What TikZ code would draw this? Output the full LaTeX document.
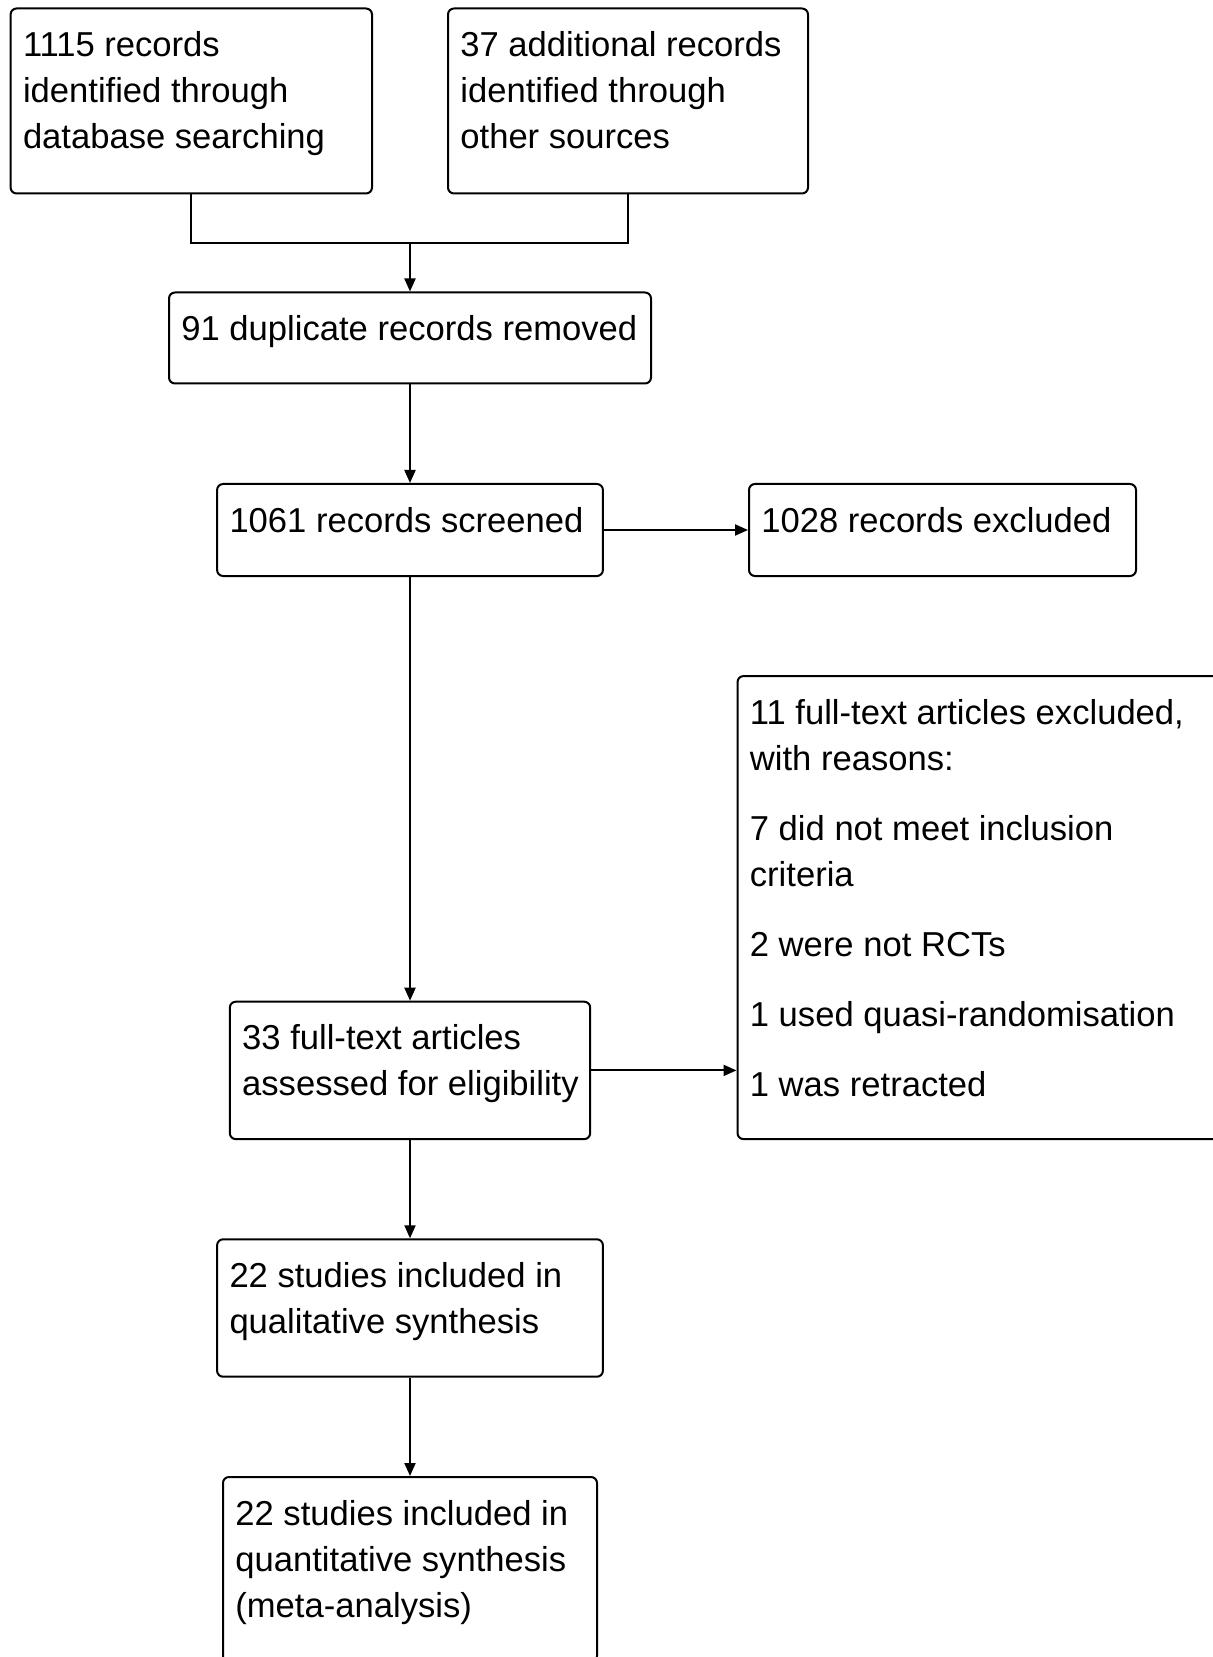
\documentclass[tikz,border=0pt]{standalone}
\usepackage{fontspec}
\setmainfont{Liberation Sans}
\usetikzlibrary{arrows.meta}

\begin{document}
\begin{tikzpicture}[x=0.5pt, y=-0.5pt,
	box/.style={draw, line width=1pt, rounded corners=3pt, inner sep=0pt},
	txt/.style={anchor=north west, align=left, inner xsep=6.5pt, inner ysep=11.8pt, font=\fontsize{17.3}{23}\selectfont},
	arr/.style={line width=1pt, -{Triangle[length=6.5pt, width=5.5pt]}}]

	\useasboundingbox (0,0) rectangle (1213,1657);
	\clip (0,0) rectangle (1213,1657);

	% identification
	\node[box, minimum width=180.7pt, minimum height=92.5pt] (dbs) at (191.3, 101) {};
	\node[txt] (dbs-t) at (dbs.north west) {1115 records\\identified through\\database searching};
	\node[box, minimum width=180pt, minimum height=92.5pt] (other) at (628, 101) {};
	\node[txt] (other-t) at (other.north west) {37 additional records\\identified through\\other sources};

	\node[box, minimum width=241pt, minimum height=45.5pt] (dup) at (410, 338) {};
	\node[txt] (dup-t) at (dup.north west) {91 duplicate records removed};

	% screening
	\node[box, minimum width=192.9pt, minimum height=46pt] (scr) at (410, 530) {};
	\node[txt] (scr-t) at (scr.north west) {1061 records screened};
	\node[box, minimum width=193.5pt, minimum height=46pt] (excl) at (942.5, 530) {};
	\node[txt] (excl-t) at (excl.north west) {1028 records excluded};

	% eligibility
	\node[box, minimum width=180.2pt, minimum height=68.7pt] (full) at (410, 1070.4) {};
	\node[txt] (full-t) at (full.north west) {33 full-text articles\\assessed for eligibility};
	\node[box, minimum width=250pt, minimum height=231.5pt] (fexcl) at (987.5, 907.6) {};
	\node[txt] (fexcl-t) at (fexcl.north west) {11 full-text articles excluded,\\with reasons:\\[12pt]
		7 did not meet inclusion\\criteria\\[12pt]
		2 were not RCTs\\[12pt]
		1 used quasi-randomisation\\[12pt]
		1 was retracted};

	% included
	\node[box, minimum width=192.9pt, minimum height=68.7pt] (qual) at (410, 1308) {};
	\node[txt] (qual-t) at (qual.north west) {22 studies included in\\qualitative synthesis};
	\node[box, minimum width=187pt, minimum height=92.5pt] (quant) at (410, 1569.5) {};
	\node[txt] (quant-t) at (quant.north west) {22 studies included in\\quantitative synthesis\\(meta-analysis)};

	% connectors
	\coordinate (mrg) at (410, 243);
	\draw[line width=1pt] (dbs.south) |- (mrg) -| (other.south);
	\draw[arr] (mrg) -- (dup.north);
	\draw[arr] (dup.south) -- (scr.north);
	\draw[arr] (scr.east) -- (excl.west);
	\draw[arr] (scr.south) -- (full.north);
	\draw[arr] (full.east) -- (full.east -| fexcl.west);
	\draw[arr] (full.south) -- (qual.north);
	\draw[arr] (qual.south) -- (quant.north);

\end{tikzpicture}
\end{document}
